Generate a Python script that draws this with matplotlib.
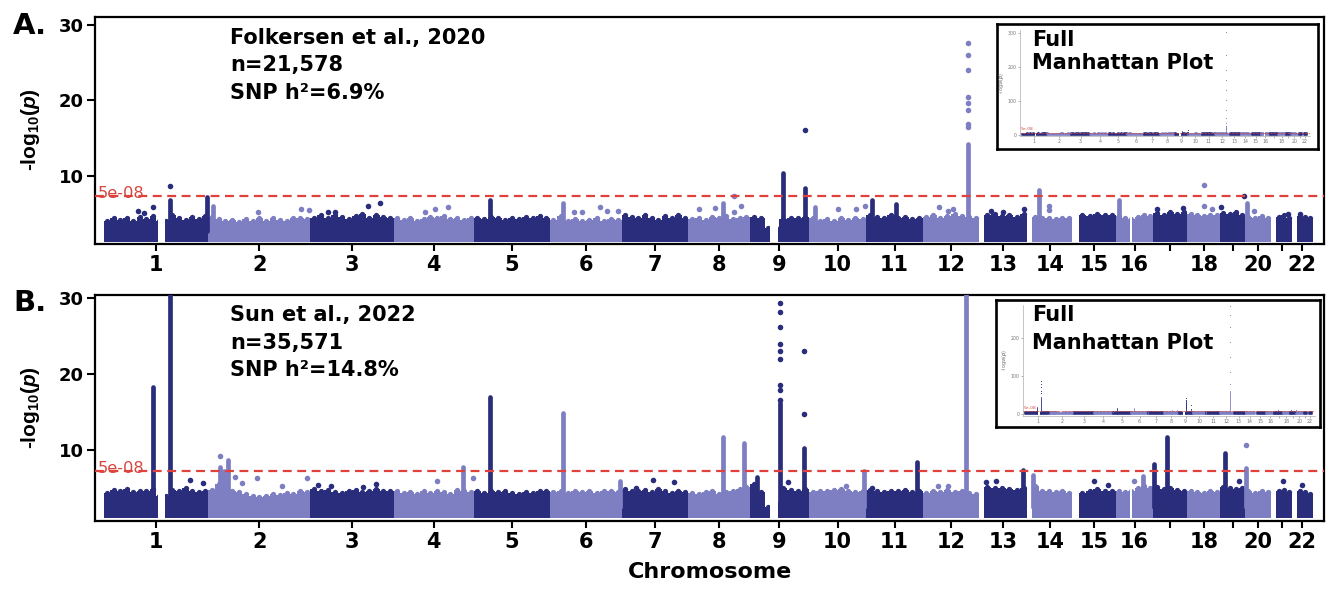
import numpy as np
import matplotlib.pyplot as plt

plt.rcParams['font.family'] = ['DejaVu Sans']
plt.rcParams['font.weight'] = 'bold'
plt.rcParams['mathtext.fontset'] = 'custom'
plt.rcParams['mathtext.rm'] = 'Liberation Sans:bold'
plt.rcParams['mathtext.it'] = 'Liberation Sans:bold:italic'
plt.rcParams['mathtext.bf'] = 'Liberation Sans:bold'

W, H = 1339, 589

# ---- chromosome layout (hg19, Mb) ----
chrom_len = [249, 243, 198, 191, 181, 171, 159, 146, 141, 136, 135, 134,
             115, 107, 103, 90, 81, 78, 59, 63, 48, 51]
chrom_first = [0] * 12 + [11, 11, 15, 0, 0, 0, 0, 0, 11, 13]
chrom_gaps = {1: (128, 145), 9: (48, 67), 16: (33, 40)}
chrom_dark = [1, 0, 1, 0, 1, 0, 1, 0, 1, 0, 1, 0, 1, 0, 1, 0, 1, 0, 1, 0, 1, 1]
tick_labels = [str(i) for i in range(1, 17)] + ['', '18', '', '20', '', '22']

DARK = '#2a2d7b'
LIGHT = '#7d7fc2'

# ---- panel A: Folkersen et al., 2020 ----
# top of the dense SNP cloud along each chromosome
env_A = [
    [3.9, 4.3, 4.1, 4.4, 4.0, 4.5, 4.2, 4.6, 4.0, 4.0, 4.7, 4.3, 4.1, 4.5, 4.2, 4.6],
    [4.5, 4.2, 4.0, 4.1, 3.8, 4.2, 3.9, 4.3, 4.0, 4.4, 4.1, 3.9, 4.3, 4.4, 4.2],
    [4.4, 4.7, 4.3, 4.8, 4.5, 4.2, 4.6, 4.9, 4.4, 4.7, 4.5, 4.3],
    [4.3, 4.1, 4.4, 4.0, 4.2, 4.5, 4.3, 4.6, 4.2, 4.4, 4.1, 4.3],
    [4.4, 4.2, 4.5, 4.3, 4.1, 4.4, 4.2, 4.5, 4.3, 4.6, 4.4],
    [4.1, 4.6, 4.0, 4.2, 3.9, 4.1, 4.3, 4.0, 4.2, 4.1],
    [4.7, 4.5, 4.3, 4.8, 4.4, 4.1, 4.6, 4.4, 4.7, 4.3],
    [4.2, 4.4, 4.1, 4.5, 4.3, 4.6, 4.2, 4.4, 4.5],
    [4.5, 4.3, 3.0, 3.0, 4.2, 4.4, 4.3, 4.5],
    [4.3, 4.0, 4.2, 3.9, 4.4, 4.1, 4.3, 4.2],
    [4.8, 4.5, 4.4, 4.7, 4.3, 4.5, 4.2, 4.4],
    [4.5, 4.7, 4.4, 4.6, 4.9, 4.6, 4.5, 4.3],
    [4.7, 4.9, 4.6, 4.8, 4.5, 4.9],
    [4.5, 4.3, 4.4, 4.2, 4.4, 4.3],
    [4.8, 4.6, 4.9, 4.7, 4.8],
    [4.6, 4.4, 4.2, 4.5, 4.8, 4.6],
    [5.0, 4.8, 5.2, 4.9, 5.1],
    [4.9, 4.7, 4.6, 4.8, 4.7],
    [5.0, 4.9, 5.1, 4.8],
    [4.5, 4.4, 4.6, 4.3],
    [4.5, 4.7, 4.4],
    [4.6, 4.5, 4.4],
]
# dense columns of SNPs: (chromosome, position Mb, top -log10 p)
cols_A = [(1, 157, 6.7), (1, 245, 7.2), (2, 11, 6.0), (5, 39, 6.7), (6, 32, 6.3),
          (8, 83, 6.3), (9, 80, 10.4), (9, 132, 8.4), (10, 15, 5.8), (11, 13, 6.7),
          (11, 70, 6.2), (12, 107, 14.2), (14, 27, 8.1), (16, 8, 6.7), (20, 4, 6.4)]
# single SNPs: (chromosome, position Mb, [-log10 p values])
dots_A = [(1, 81, [5.3]), (1, 95, [5.0]), (1, 117, [5.8]), (1, 157, [8.6]),
          (2, 118, [5.1]), (2, 220, [5.6]), (2, 240, [5.4]),
          (3, 42, [5.1]), (3, 58, [5.2]), (3, 137, [5.9]), (3, 166, [6.4]),
          (4, 75, [5.1]), (4, 99, [5.6]), (4, 130, [5.8]),
          (6, 58, [5.1]), (6, 77, [5.2]), (6, 120, [5.8]), (6, 137, [5.3]), (6, 161, [5.3]),
          (8, 26, [5.6]), (8, 62, [5.7]), (8, 109, [5.2, 7.3]), (8, 126, [6.0]),
          (9, 132, [16.1]),
          (10, 70, [5.5]), (10, 111, [5.6]), (10, 133, [5.9]),
          (12, 38, [5.8]), (12, 61, [5.3]), (12, 71, [5.5]),
          (12, 107, [16.4, 16.9, 18.7, 19.6, 20.4, 24.0, 26.0, 27.6,
                     35, 50, 74, 103, 133, 162, 192, 236, 305]),
          (13, 28, [5.3]), (13, 56, [5.1]), (13, 106, [5.5]),
          (14, 51, [6.0, 5.4]),
          (17, 8, [5.6]), (17, 70, [5.7]),
          (18, 39, [8.8, 6.0]), (18, 58, [5.6]),
          (19, 2, [5.8]), (19, 56, [7.3]),
          (20, 21, [5.3]), (21, 39, [4.9]), (22, 20, [4.9])]

# ---- panel B: Sun et al., 2022 ----
env_B = [
    [4.4, 4.8, 4.6, 4.9, 4.5, 4.7, 4.6, 4.9, 4.0, 4.0, 4.8, 4.6, 5.0, 4.7, 4.5, 4.6],
    [4.8, 5.6, 5.0, 4.6, 4.5, 4.2, 4.0, 3.9, 4.0, 4.3, 4.1, 4.4, 4.2, 4.6, 4.5],
    [4.9, 4.7, 4.8, 4.5, 4.4, 4.6, 4.8, 4.5, 4.7, 4.9, 4.6, 4.7],
    [4.6, 4.4, 4.5, 4.3, 4.6, 4.4, 4.7, 4.5, 4.3, 4.8, 4.6, 4.5],
    [4.6, 4.4, 4.7, 4.5, 4.6, 4.4, 4.3, 4.5, 4.4, 4.6, 4.7],
    [4.5, 4.6, 4.4, 4.7, 4.5, 4.6, 4.4, 4.6, 4.7, 4.5],
    [4.9, 4.7, 4.6, 4.8, 4.5, 4.9, 4.6, 4.4, 4.7, 4.5],
    [4.4, 4.3, 4.5, 4.6, 4.3, 4.5, 4.7, 4.9, 5.2],
    [5.5, 4.5, 2.5, 3.0, 5.0, 4.8, 4.6, 4.9],
    [4.5, 4.7, 4.6, 4.8, 4.9, 4.7, 4.5, 4.6],
    [4.8, 4.6, 4.5, 4.7, 4.6, 4.8, 4.5, 4.7],
    [4.4, 4.6, 4.5, 4.8, 4.5, 4.6, 4.4, 4.2],
    [5.2, 5.0, 5.1, 4.9, 4.8, 5.0],
    [5.3, 4.6, 4.7, 4.5, 4.6, 4.4],
    [4.4, 4.6, 4.9, 4.7, 4.6],
    [4.6, 4.5, 4.7, 5.0, 5.3, 5.0],
    [5.2, 4.9, 5.0, 4.8, 4.7],
    [4.6, 4.5, 4.4, 4.6, 4.5],
    [5.2, 5.0, 4.9, 5.1],
    [4.6, 4.4, 4.7, 4.5],
    [4.6, 4.8, 4.5],
    [4.7, 4.5, 4.3],
]
cols_B = [(1, 117, 18.3), (1, 157, 45), (2, 27, 7.8), (2, 36, 7.3), (2, 47, 8.7),
          (4, 166, 7.8), (5, 39, 17.0), (6, 32, 14.9), (6, 168, 5.9), (8, 81, 11.8),
          (8, 133, 10.9), (9, 18, 6.5), (9, 73, 16.2), (9, 128, 10.3), (10, 130, 7.3),
          (11, 120, 8.5), (12, 102, 60), (13, 104, 7.4), (14, 13, 6.8), (16, 65, 6.6),
          (17, 2, 8.2), (17, 32, 11.8), (19, 11, 9.6), (20, 2, 7.6)]
dots_B = [(1, 157, [55, 62, 70, 80, 88]), (1, 205, [6.1]), (1, 236, [5.7]),
          (2, 27, [9.3]), (2, 63, [6.5]), (2, 80, [5.7]), (2, 116, [6.3]),
          (2, 175, [5.3]), (2, 235, [6.3]),
          (3, 18, [5.4]), (3, 49, [5.3]), (3, 125, [5.2]), (3, 156, [5.6]),
          (4, 104, [6.0]), (4, 188, [6.3]),
          (7, 35, [5.0]), (7, 75, [6.1]), (7, 125, [5.8]),
          (9, 73, [16.6, 17.9, 18.6, 22.0, 23.0, 24.0, 26.2, 28.2, 29.3, 31, 34, 38, 42]),
          (9, 92, [5.8]), (9, 128, [14.7, 23.0]),
          (10, 87, [5.3]), (11, 15, [5.0]),
          (12, 35, [5.3]), (12, 59, [5.3]), (12, 102, [80, 110, 150, 190, 230, 260, 285]),
          (13, 16, [5.8]), (13, 40, [6.0]),
          (15, 51, [5.9]), (15, 84, [5.4]), (16, 43, [6.0]),
          (19, 45, [6.0]), (20, 2, [10.7]),
          (21, 27, [5.9]), (22, 25, [5.4])]

threshold = -np.log10(5e-8)

offsets = np.concatenate([[0], np.cumsum(chrom_len)[:-1]])
centers = offsets + np.array(chrom_len) / 2.0
shade = [DARK if d else LIGHT for d in chrom_dark]
xlim = (-21, 2905)


def rect(l, t, r, b):
    return [l / W, 1 - b / H, (r - l) / W, (b - t) / H]


def draw_manhattan(ax, env, cols, dots, base, col_lw, dot_s, edge_lw=0.0, bumps=True):
    for i, tops in enumerate(env):
        edges = np.linspace(offsets[i] + chrom_first[i], offsets[i] + chrom_len[i], len(tops) + 1)
        ax.fill_between(edges, base, np.append(tops, tops[-1]), step='post',
                        facecolor=shade[i], edgecolor=shade[i], lw=edge_lw, zorder=1)
        if bumps:
            # rounded SNP tops along the cloud
            mids = 0.5 * (edges[1:] + edges[:-1])
            ax.scatter(mids, tops, s=dot_s * 0.9, color=shade[i], lw=0, zorder=1)
    for c, (g0, g1) in chrom_gaps.items():
        ax.axvspan(offsets[c - 1] + g0, offsets[c - 1] + g1, color='white', lw=0, zorder=2)
    ax.vlines([offsets[c - 1] + p for c, p, t in cols], base + 1.5, [t for c, p, t in cols],
              colors=[shade[c - 1] for c, p, t in cols], linewidth=col_lw,
              capstyle='round', zorder=3)
    for c, p, vals in dots:
        ax.scatter(np.full(len(vals), offsets[c - 1] + p), vals, s=dot_s,
                   color=shade[c - 1], lw=0, zorder=3)
    ax.set_xlim(*xlim)


fig = plt.figure(figsize=(W / 100, H / 100), dpi=100)

panels = [
    (rect(95, 17, 1324, 244), env_A, cols_A, dots_A, (0.9, 31.1), 'A.', 26, 130,
     ['Folkersen et al., 2020', 'n=21,578', 'SNP h\u00b2=6.9%'], [38, 65, 93],
     rect(997, 24, 1318, 149), rect(1020, 30, 1310, 136), (-3, 310), [0, 100, 200, 300],
     [40, 63]),
    (rect(95, 295, 1324, 521), env_B, cols_B, dots_B, (0.7, 30.4), 'B.', 303, 408,
     ['Sun et al., 2022', 'n=35,571', 'SNP h\u00b2=14.8%'], [315, 343, 370],
     rect(996, 300, 1320, 427), rect(1023, 305, 1315, 416), (-5, 287), [0, 100, 200],
     [315, 343]),
]

for (pos, env, cols, dots, ylim, tag, tag_y, ylab_y, notes, note_y,
     box_pos, inner_pos, inner_ylim, inner_yt, full_y) in panels:
    ax = fig.add_axes(pos)
    draw_manhattan(ax, env, cols, dots, base=1.1, col_lw=3.4, dot_s=16)
    ax.set_ylim(*ylim)
    ax.axhline(threshold, color='#e0413b', lw=1.6, ls=(0, (4, 2.5)), zorder=4)
    ax.text(0.002, 7.0, '5e-08', transform=ax.get_yaxis_transform(), color='#d6473f',
            fontsize=11.7, fontweight='normal', va='baseline', ha='left', zorder=5)
    ax.set_yticks([10, 20, 30])
    ax.set_xticks(centers)
    ax.set_xticklabels(tick_labels)
    ax.tick_params(axis='y', direction='out', length=6, width=1.5, labelsize=13, pad=2)
    ax.tick_params(axis='x', direction='out', length=5, width=1.5, labelsize=15, pad=3)
    for sp in ax.spines.values():
        sp.set_linewidth(1.6)

    fig.text(13 / W, 1 - tag_y / H, tag, fontsize=21, va='center', ha='left')
    fig.text(30 / W, 1 - ylab_y / H, '-log$_{10}$($p$)', fontsize=15, rotation=90,
             va='center', ha='center', family='Liberation Sans')
    for line, yy in zip(notes, note_y):
        fig.text(230 / W, 1 - yy / H, line, fontsize=15, va='center', ha='left')

    # inset with the full range
    box = fig.add_axes(box_pos)
    box.set_xticks([])
    box.set_yticks([])
    for sp in box.spines.values():
        sp.set_linewidth(1.9)
    inner = fig.add_axes(inner_pos)
    inner.patch.set_alpha(0)
    draw_manhattan(inner, env, cols, dots, base=0, col_lw=0.6, dot_s=0.6,
                   edge_lw=1.2, bumps=False)
    inner.set_ylim(*inner_ylim)
    inner.axhline(threshold, color='#e0413b', lw=0.5, ls=(0, (3, 2)), zorder=4)
    inner.text(0.003, threshold + 4, '5e-08', transform=inner.get_yaxis_transform(),
               color='#d6473f', fontsize=3.2, fontweight='normal', va='bottom')
    inner.set_yticks(inner_yt)
    inner.set_xticks(centers)
    inner.set_xticklabels(tick_labels)
    inner.tick_params(length=1.5, width=0.4, labelsize=3.4, pad=1, colors='#777777')
    for lbl in inner.get_xticklabels() + inner.get_yticklabels():
        lbl.set_fontweight('normal')
    inner.set_ylabel('-log$_{10}$($p$)', fontsize=3.6, color='#777777', labelpad=1)
    for side in ['top', 'right']:
        inner.spines[side].set_visible(False)
    for side in ['left', 'bottom']:
        inner.spines[side].set_linewidth(0.4)
        inner.spines[side].set_color('#999999')
    fig.text(1032 / W, 1 - full_y[0] / H, 'Full', fontsize=15, va='center', ha='left')
    fig.text(1032 / W, 1 - full_y[1] / H, 'Manhattan Plot', fontsize=15, va='center', ha='left')

fig.text(710 / W, 1 - 572 / H, 'Chromosome', fontsize=16, va='center', ha='center')

fig.savefig('out.png', dpi=100)
